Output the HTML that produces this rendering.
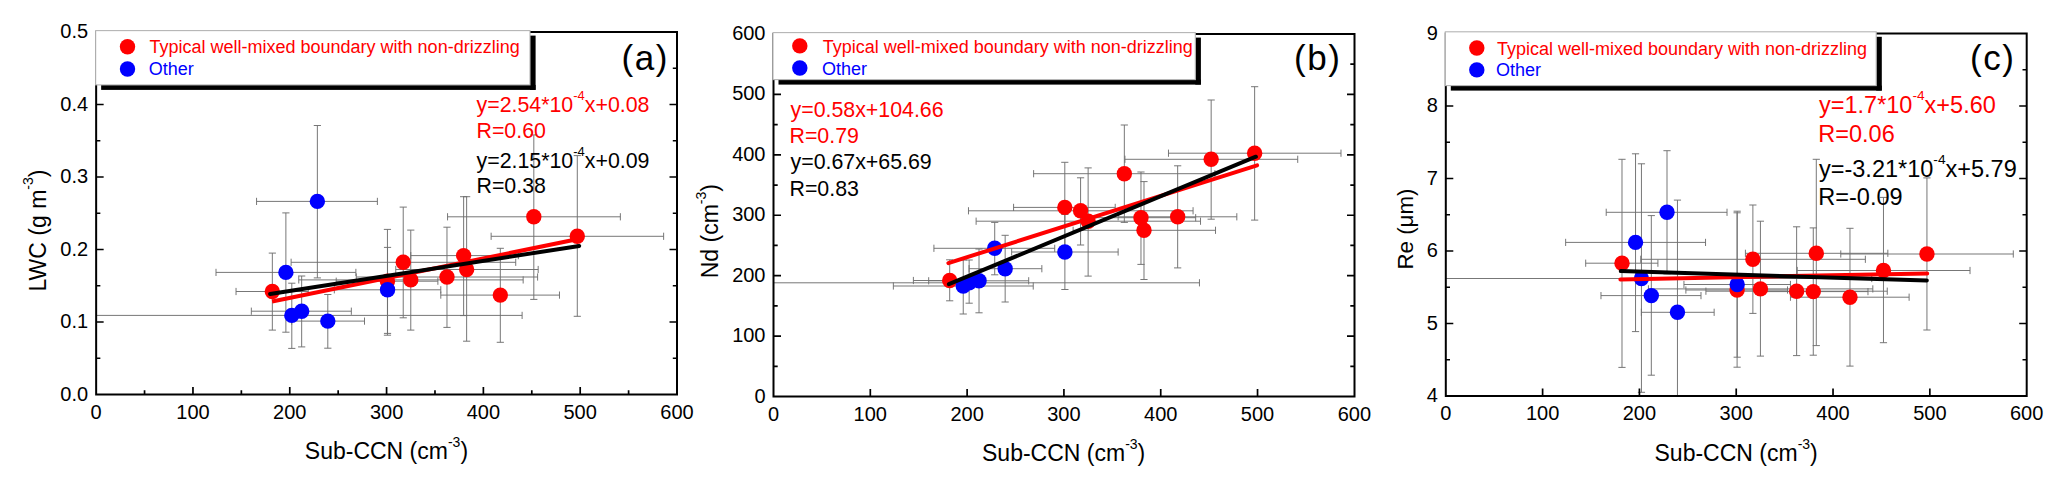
<!DOCTYPE html><html><head><meta charset="utf-8"><style>html,body{margin:0;padding:0;background:#fff;}svg{display:block;}text{font-family:"Liberation Sans", sans-serif;}</style></head><body>
<svg width="2067" height="490" viewBox="0 0 2067 490">
<rect width="2067" height="490" fill="#fff"/>
<clipPath id="clipa"><rect x="96.15" y="32" width="580.85" height="362.5"/></clipPath>
<g clip-path="url(#clipa)" stroke="#707070" stroke-width="0.95" fill="none">
<path d="M272.34 253.1V330.1M268.74 253.1H275.94M268.74 330.1H275.94M236.04 291.5H308.26M236.04 287.9V295.1M308.26 287.9V295.1"/>
<path d="M387.45 229.4V335.2M383.85 229.4H391.05M383.85 335.2H391.05M336.23 281.2H437.88M336.23 277.6V284.8M437.88 277.6V284.8"/>
<path d="M403.23 207.1V317.8M399.63 207.1H406.83M399.63 317.8H406.83M291.12 262.3H515.72M291.12 258.7V265.9M515.72 258.7V265.9"/>
<path d="M410.78 230.1V330.1M407.18 230.1H414.38M407.18 330.1H414.38M298.77 279.9H523.17M298.77 276.3V283.5M523.17 276.3V283.5"/>
<path d="M446.98 227.2V327.4M443.38 227.2H450.58M443.38 327.4H450.58M356.27 277H537.6M356.27 273.4V280.6M537.6 273.4V280.6"/>
<path d="M463.63 196.7V315.6M460.03 196.7H467.23M460.03 315.6H467.23M410.78 255.6H518.33M410.78 252V259.2M518.33 252V259.2"/>
<path d="M466.64 196.7V341.2M463.04 196.7H470.24M463.04 341.2H470.24M395.77 269.5H538.18M395.77 265.9V273.1M538.18 265.9V273.1"/>
<path d="M500.32 248.3V342.3M496.72 248.3H503.92M496.72 342.3H503.92M440.79 295.1H559.47M440.79 291.5V298.7M559.47 291.5V298.7"/>
<path d="M533.82 134.9V299.4M530.22 134.9H537.42M530.22 299.4H537.42M447.56 216.8H620.37M447.56 213.2V220.4M620.37 213.2V220.4"/>
<path d="M577.29 155.6V316.3M573.69 155.6H580.89M573.69 316.3H580.89M491.13 236.3H663.64M491.13 232.7V239.9M663.64 232.7V239.9"/>
<path d="M285.89 212.9V332.2M282.29 212.9H289.49M282.29 332.2H289.49M216 272.4H355.89M216 268.8V276M355.89 268.8V276"/>
<path d="M291.8 283.2V348.4M288.2 283.2H295.4M288.2 348.4H295.4M86.47 315.4H522.11M86.47 311.8V319M522.11 311.8V319"/>
<path d="M301.67 276V346.9M298.07 276H305.27M298.07 346.9H305.27M251.33 311.2H351.34M251.33 307.6V314.8M351.34 307.6V314.8"/>
<path d="M317.36 125.5V277.9M313.76 125.5H320.96M313.76 277.9H320.96M256.56 201.4H377.38M256.56 197.8V205M377.38 197.8V205"/>
<path d="M327.81 294.5V348.2M324.21 294.5H331.41M324.21 348.2H331.41M291.7 321.1H364.5M291.7 317.5V324.7M364.5 317.5V324.7"/>
<path d="M387.54 247.4V333.4M383.94 247.4H391.14M383.94 333.4H391.14M334.3 289.8H440.79M334.3 286.2V293.4M440.79 286.2V293.4"/>
</g>
<circle cx="272.34" cy="291.5" r="7.7" fill="#ff0000"/>
<circle cx="387.45" cy="281.2" r="7.7" fill="#ff0000"/>
<circle cx="403.23" cy="262.3" r="7.7" fill="#ff0000"/>
<circle cx="410.78" cy="279.9" r="7.7" fill="#ff0000"/>
<circle cx="446.98" cy="277" r="7.7" fill="#ff0000"/>
<circle cx="463.63" cy="255.6" r="7.7" fill="#ff0000"/>
<circle cx="466.64" cy="269.5" r="7.7" fill="#ff0000"/>
<circle cx="500.32" cy="295.1" r="7.7" fill="#ff0000"/>
<circle cx="533.82" cy="216.8" r="7.7" fill="#ff0000"/>
<circle cx="577.29" cy="236.3" r="7.7" fill="#ff0000"/>
<circle cx="285.89" cy="272.4" r="7.7" fill="#0000ff"/>
<circle cx="291.8" cy="315.4" r="7.7" fill="#0000ff"/>
<circle cx="301.67" cy="311.2" r="7.7" fill="#0000ff"/>
<circle cx="317.36" cy="201.4" r="7.7" fill="#0000ff"/>
<circle cx="327.81" cy="321.1" r="7.7" fill="#0000ff"/>
<circle cx="387.54" cy="289.8" r="7.7" fill="#0000ff"/>
<line x1="272.1" y1="301.5" x2="577" y2="239.3" stroke="#ff0000" stroke-width="4" stroke-linecap="butt"/>
<line x1="270.1" y1="294" x2="579.2" y2="245.9" stroke="#000" stroke-width="4" stroke-linecap="round"/>
<rect x="96.15" y="32" width="580.85" height="362.5" fill="none" stroke="#000" stroke-width="2"/>
<path d="M144.55 394.5V390.3M192.96 394.5V387M241.36 394.5V390.3M289.77 394.5V387M338.17 394.5V390.3M386.58 394.5V387M434.98 394.5V390.3M483.38 394.5V387M531.79 394.5V390.3M580.19 394.5V387M628.6 394.5V390.3M96.15 358.25H100.35M677 358.25H672.8M96.15 322H103.65M677 322H669.5M96.15 285.75H100.35M677 285.75H672.8M96.15 249.5H103.65M677 249.5H669.5M96.15 213.25H100.35M677 213.25H672.8M96.15 177H103.65M677 177H669.5M96.15 140.75H100.35M677 140.75H672.8M96.15 104.5H103.65M677 104.5H669.5M96.15 68.25H100.35M677 68.25H672.8" stroke="#000" stroke-width="1.7" fill="none"/>
<text x="96.15" y="418.8" font-size="20" text-anchor="middle">0</text>
<text x="192.96" y="418.8" font-size="20" text-anchor="middle">100</text>
<text x="289.77" y="418.8" font-size="20" text-anchor="middle">200</text>
<text x="386.58" y="418.8" font-size="20" text-anchor="middle">300</text>
<text x="483.38" y="418.8" font-size="20" text-anchor="middle">400</text>
<text x="580.19" y="418.8" font-size="20" text-anchor="middle">500</text>
<text x="677" y="418.8" font-size="20" text-anchor="middle">600</text>
<text x="88.15" y="400.5" font-size="20" text-anchor="end">0.0</text>
<text x="88.15" y="328" font-size="20" text-anchor="end">0.1</text>
<text x="88.15" y="255.5" font-size="20" text-anchor="end">0.2</text>
<text x="88.15" y="183" font-size="20" text-anchor="end">0.3</text>
<text x="88.15" y="110.5" font-size="20" text-anchor="end">0.4</text>
<text x="88.15" y="38" font-size="20" text-anchor="end">0.5</text>
<rect x="101.15" y="84.9" width="434.45" height="5" fill="#000"/>
<rect x="530" y="35.6" width="5.6" height="54.3" fill="#000"/>
<rect x="95.65" y="30.6" width="434.35" height="54.3" fill="#fff" stroke="#b4b4b4" stroke-width="1.1"/>
<circle cx="127.5" cy="46.7" r="7.7" fill="#ff0000"/>
<circle cx="127.5" cy="69" r="7.7" fill="#0000ff"/>
<text x="149.5" y="52.8" font-size="18" fill="#ff0000">Typical well-mixed boundary with non-drizzling</text>
<text x="148.7" y="74.9" font-size="18" fill="#0000ff">Other</text>
<clipPath id="clipb"><rect x="773.5" y="34" width="581" height="362.5"/></clipPath>
<g clip-path="url(#clipb)" stroke="#707070" stroke-width="0.95" fill="none">
<path d="M949.69 259.8V300.8M946.09 259.8H953.29M946.09 300.8H953.29M913.39 280.5H985.61M913.39 276.9V284.1M985.61 276.9V284.1"/>
<path d="M1064.8 162.3V252.5M1061.2 162.3H1068.4M1061.2 252.5H1068.4M1013.58 207.4H1115.23M1013.58 203.8V211M1115.23 203.8V211"/>
<path d="M1080.58 177.8V245M1076.98 177.8H1084.18M1076.98 245H1084.18M968.47 210.8H1193.07M968.47 207.2V214.4M1193.07 207.2V214.4"/>
<path d="M1088.13 167.9V276.1M1084.53 167.9H1091.73M1084.53 276.1H1091.73M976.12 221.2H1200.52M976.12 217.6V224.8M1200.52 217.6V224.8"/>
<path d="M1124.33 125V222.4M1120.73 125H1127.93M1120.73 222.4H1127.93M1033.62 173.7H1214.95M1033.62 170.1V177.3M1214.95 170.1V177.3"/>
<path d="M1140.98 172V264.4M1137.38 172H1144.58M1137.38 264.4H1144.58M1088.13 217.7H1195.68M1088.13 214.1V221.3M1195.68 214.1V221.3"/>
<path d="M1143.99 181.6V279.5M1140.39 181.6H1147.59M1140.39 279.5H1147.59M1073.12 230.3H1215.53M1073.12 226.7V233.9M1215.53 226.7V233.9"/>
<path d="M1177.67 165.8V267.9M1174.07 165.8H1181.27M1174.07 267.9H1181.27M1118.14 216.8H1236.82M1118.14 213.2V220.4M1236.82 213.2V220.4"/>
<path d="M1211.17 100V219.2M1207.57 100H1214.77M1207.57 219.2H1214.77M1124.91 159.3H1297.72M1124.91 155.7V162.9M1297.72 155.7V162.9"/>
<path d="M1254.64 86.7V220.1M1251.04 86.7H1258.24M1251.04 220.1H1258.24M1168.48 153.2H1340.99M1168.48 149.6V156.8M1340.99 149.6V156.8"/>
<path d="M963.24 260V314M959.64 260H966.84M959.64 314H966.84M893.35 286H1033.24M893.35 282.4V289.6M1033.24 282.4V289.6"/>
<path d="M969.15 260V303.2M965.55 260H972.75M965.55 303.2H972.75M763.82 282.8H1199.46M763.82 279.2V286.4M1199.46 279.2V286.4"/>
<path d="M979.02 249V312.8M975.42 249H982.62M975.42 312.8H982.62M928.68 280.8H1028.69M928.68 277.2V284.4M1028.69 277.2V284.4"/>
<path d="M994.71 222.4V274.8M991.11 222.4H998.31M991.11 274.8H998.31M933.91 248.3H1054.73M933.91 244.7V251.9M1054.73 244.7V251.9"/>
<path d="M1005.16 235.3V302M1001.56 235.3H1008.76M1001.56 302H1008.76M969.05 268.7H1041.85M969.05 265.1V272.3M1041.85 265.1V272.3"/>
<path d="M1064.89 214.5V289.5M1061.29 214.5H1068.49M1061.29 289.5H1068.49M1011.65 252H1118.14M1011.65 248.4V255.6M1118.14 248.4V255.6"/>
</g>
<circle cx="949.69" cy="280.5" r="7.7" fill="#ff0000"/>
<circle cx="1064.8" cy="207.4" r="7.7" fill="#ff0000"/>
<circle cx="1080.58" cy="210.8" r="7.7" fill="#ff0000"/>
<circle cx="1088.13" cy="221.2" r="7.7" fill="#ff0000"/>
<circle cx="1124.33" cy="173.7" r="7.7" fill="#ff0000"/>
<circle cx="1140.98" cy="217.7" r="7.7" fill="#ff0000"/>
<circle cx="1143.99" cy="230.3" r="7.7" fill="#ff0000"/>
<circle cx="1177.67" cy="216.8" r="7.7" fill="#ff0000"/>
<circle cx="1211.17" cy="159.3" r="7.7" fill="#ff0000"/>
<circle cx="1254.64" cy="153.2" r="7.7" fill="#ff0000"/>
<circle cx="963.24" cy="286" r="7.7" fill="#0000ff"/>
<circle cx="969.15" cy="282.8" r="7.7" fill="#0000ff"/>
<circle cx="979.02" cy="280.8" r="7.7" fill="#0000ff"/>
<circle cx="994.71" cy="248.3" r="7.7" fill="#0000ff"/>
<circle cx="1005.16" cy="268.7" r="7.7" fill="#0000ff"/>
<circle cx="1064.89" cy="252" r="7.7" fill="#0000ff"/>
<line x1="948.4" y1="263.1" x2="1257.1" y2="165.3" stroke="#ff0000" stroke-width="4" stroke-linecap="round"/>
<line x1="948.9" y1="284.2" x2="1255.9" y2="156.7" stroke="#000" stroke-width="4" stroke-linecap="round"/>
<rect x="773.5" y="34" width="581" height="362.5" fill="none" stroke="#000" stroke-width="2"/>
<path d="M870.31 396.5V389M967.12 396.5V389M1063.92 396.5V389M1160.73 396.5V389M1257.54 396.5V389M773.5 366.29H777.7M1354.5 366.29H1350.3M773.5 336.08H781M1354.5 336.08H1347M773.5 305.88H777.7M1354.5 305.88H1350.3M773.5 275.67H781M1354.5 275.67H1347M773.5 245.46H777.7M1354.5 245.46H1350.3M773.5 215.25H781M1354.5 215.25H1347M773.5 185.04H777.7M1354.5 185.04H1350.3M773.5 154.83H781M1354.5 154.83H1347M773.5 124.62H777.7M1354.5 124.62H1350.3M773.5 94.42H781M1354.5 94.42H1347M773.5 64.21H777.7M1354.5 64.21H1350.3" stroke="#000" stroke-width="1.7" fill="none"/>
<text x="773.5" y="420.8" font-size="20" text-anchor="middle">0</text>
<text x="870.31" y="420.8" font-size="20" text-anchor="middle">100</text>
<text x="967.12" y="420.8" font-size="20" text-anchor="middle">200</text>
<text x="1063.92" y="420.8" font-size="20" text-anchor="middle">300</text>
<text x="1160.73" y="420.8" font-size="20" text-anchor="middle">400</text>
<text x="1257.54" y="420.8" font-size="20" text-anchor="middle">500</text>
<text x="1354.35" y="420.8" font-size="20" text-anchor="middle">600</text>
<text x="765.5" y="402.5" font-size="20" text-anchor="end">0</text>
<text x="765.5" y="342.08" font-size="20" text-anchor="end">100</text>
<text x="765.5" y="281.67" font-size="20" text-anchor="end">200</text>
<text x="765.5" y="221.25" font-size="20" text-anchor="end">300</text>
<text x="765.5" y="160.83" font-size="20" text-anchor="end">400</text>
<text x="765.5" y="100.42" font-size="20" text-anchor="end">500</text>
<text x="765.5" y="40" font-size="20" text-anchor="end">600</text>
<rect x="778.5" y="79.6" width="422.4" height="5" fill="#000"/>
<rect x="1195.3" y="37.6" width="5.6" height="47" fill="#000"/>
<rect x="773" y="32.6" width="422.3" height="47" fill="#fff" stroke="#b4b4b4" stroke-width="1.1"/>
<circle cx="799.8" cy="45.9" r="7.7" fill="#ff0000"/>
<circle cx="799.8" cy="68" r="7.7" fill="#0000ff"/>
<text x="822.7" y="52.8" font-size="18" fill="#ff0000">Typical well-mixed boundary with non-drizzling</text>
<text x="821.9" y="74.9" font-size="18" fill="#0000ff">Other</text>
<clipPath id="clipc"><rect x="1445.8" y="33.5" width="580.9" height="362.5"/></clipPath>
<g clip-path="url(#clipc)" stroke="#707070" stroke-width="0.95" fill="none">
<path d="M1621.99 159.3V367.4M1618.39 159.3H1625.59M1618.39 367.4H1625.59M1585.69 263.2H1657.91M1585.69 259.6V266.8M1657.91 259.6V266.8"/>
<path d="M1737.1 212.8V367.2M1733.5 212.8H1740.7M1733.5 367.2H1740.7M1685.88 290H1787.53M1685.88 286.4V293.6M1787.53 286.4V293.6"/>
<path d="M1752.88 205V313.4M1749.28 205H1756.48M1749.28 313.4H1756.48M1640.77 259.3H1865.37M1640.77 255.7V262.9M1865.37 255.7V262.9"/>
<path d="M1760.43 221.2V356.1M1756.83 221.2H1764.03M1756.83 356.1H1764.03M1648.42 288.9H1872.82M1648.42 285.3V292.5M1872.82 285.3V292.5"/>
<path d="M1796.63 226.8V355.6M1793.03 226.8H1800.23M1793.03 355.6H1800.23M1705.92 291.2H1887.25M1705.92 287.6V294.8M1887.25 287.6V294.8"/>
<path d="M1813.28 227.9V355.2M1809.68 227.9H1816.88M1809.68 355.2H1816.88M1760.43 291.6H1867.98M1760.43 288V295.2M1867.98 288V295.2"/>
<path d="M1816.29 159.3V345.6M1812.69 159.3H1819.89M1812.69 345.6H1819.89M1745.42 253.3H1887.83M1745.42 249.7V256.9M1887.83 249.7V256.9"/>
<path d="M1849.97 228.3V366.1M1846.37 228.3H1853.57M1846.37 366.1H1853.57M1790.44 297.2H1909.12M1790.44 293.6V300.8M1909.12 293.6V300.8"/>
<path d="M1883.47 197.4V342.7M1879.87 197.4H1887.07M1879.87 342.7H1887.07M1797.21 270.5H1970.02M1797.21 266.9V274.1M1970.02 266.9V274.1"/>
<path d="M1926.94 177.9V330M1923.34 177.9H1930.54M1923.34 330H1930.54M1840.78 254H2013.29M1840.78 250.4V257.6M2013.29 250.4V257.6"/>
<path d="M1635.54 153.8V331.6M1631.94 153.8H1639.14M1631.94 331.6H1639.14M1565.65 242.4H1705.54M1565.65 238.8V246M1705.54 238.8V246"/>
<path d="M1641.45 163.8V392.3M1637.85 163.8H1645.05M1637.85 392.3H1645.05M1436.12 278.5H1871.76M1436.12 274.9V282.1M1871.76 274.9V282.1"/>
<path d="M1651.32 215.6V375.2M1647.72 215.6H1654.92M1647.72 375.2H1654.92M1600.98 295.6H1700.99M1600.98 292V299.2M1700.99 292V299.2"/>
<path d="M1667.01 150.7V273.9M1663.41 150.7H1670.61M1663.41 273.9H1670.61M1606.21 212.3H1727.03M1606.21 208.7V215.9M1727.03 208.7V215.9"/>
<path d="M1677.46 200.1V396M1673.86 200.1H1681.06M1673.86 396H1681.06M1641.35 312.3H1714.15M1641.35 308.7V315.9M1714.15 308.7V315.9"/>
<path d="M1737.19 211.2V357.2M1733.59 211.2H1740.79M1733.59 357.2H1740.79M1683.95 284.5H1790.44M1683.95 280.9V288.1M1790.44 280.9V288.1"/>
</g>
<circle cx="1621.99" cy="263.2" r="7.7" fill="#ff0000"/>
<circle cx="1737.1" cy="290" r="7.7" fill="#ff0000"/>
<circle cx="1752.88" cy="259.3" r="7.7" fill="#ff0000"/>
<circle cx="1760.43" cy="288.9" r="7.7" fill="#ff0000"/>
<circle cx="1796.63" cy="291.2" r="7.7" fill="#ff0000"/>
<circle cx="1813.28" cy="291.6" r="7.7" fill="#ff0000"/>
<circle cx="1816.29" cy="253.3" r="7.7" fill="#ff0000"/>
<circle cx="1849.97" cy="297.2" r="7.7" fill="#ff0000"/>
<circle cx="1883.47" cy="270.5" r="7.7" fill="#ff0000"/>
<circle cx="1926.94" cy="254" r="7.7" fill="#ff0000"/>
<circle cx="1635.54" cy="242.4" r="7.7" fill="#0000ff"/>
<circle cx="1641.45" cy="278.5" r="7.7" fill="#0000ff"/>
<circle cx="1651.32" cy="295.6" r="7.7" fill="#0000ff"/>
<circle cx="1667.01" cy="212.3" r="7.7" fill="#0000ff"/>
<circle cx="1677.46" cy="312.3" r="7.7" fill="#0000ff"/>
<circle cx="1737.19" cy="284.5" r="7.7" fill="#0000ff"/>
<line x1="1620.4" y1="279.4" x2="1927.2" y2="273.5" stroke="#ff0000" stroke-width="4" stroke-linecap="round"/>
<line x1="1620.8" y1="271.1" x2="1926.8" y2="280.4" stroke="#000" stroke-width="4" stroke-linecap="round"/>
<rect x="1445.8" y="33.5" width="580.9" height="362.5" fill="none" stroke="#000" stroke-width="2"/>
<path d="M1542.61 396V388.5M1639.42 396V388.5M1736.22 396V388.5M1833.03 396V388.5M1929.84 396V388.5M1445.8 359.75H1450M2026.7 359.75H2022.5M1445.8 323.5H1453.3M2026.7 323.5H2019.2M1445.8 287.25H1450M2026.7 287.25H2022.5M1445.8 251H1453.3M2026.7 251H2019.2M1445.8 214.75H1450M2026.7 214.75H2022.5M1445.8 178.5H1453.3M2026.7 178.5H2019.2M1445.8 142.25H1450M2026.7 142.25H2022.5M1445.8 106H1453.3M2026.7 106H2019.2M1445.8 69.75H1450M2026.7 69.75H2022.5" stroke="#000" stroke-width="1.7" fill="none"/>
<text x="1445.8" y="420.3" font-size="20" text-anchor="middle">0</text>
<text x="1542.61" y="420.3" font-size="20" text-anchor="middle">100</text>
<text x="1639.42" y="420.3" font-size="20" text-anchor="middle">200</text>
<text x="1736.22" y="420.3" font-size="20" text-anchor="middle">300</text>
<text x="1833.03" y="420.3" font-size="20" text-anchor="middle">400</text>
<text x="1929.84" y="420.3" font-size="20" text-anchor="middle">500</text>
<text x="2026.65" y="420.3" font-size="20" text-anchor="middle">600</text>
<text x="1437.8" y="402" font-size="20" text-anchor="end">4</text>
<text x="1437.8" y="329.5" font-size="20" text-anchor="end">5</text>
<text x="1437.8" y="257" font-size="20" text-anchor="end">6</text>
<text x="1437.8" y="184.5" font-size="20" text-anchor="end">7</text>
<text x="1437.8" y="112" font-size="20" text-anchor="end">8</text>
<text x="1437.8" y="39.5" font-size="20" text-anchor="end">9</text>
<rect x="1450.8" y="85.6" width="431" height="5" fill="#000"/>
<rect x="1876.2" y="36.8" width="5.6" height="53.8" fill="#000"/>
<rect x="1445.3" y="31.8" width="430.9" height="53.8" fill="#fff" stroke="#b4b4b4" stroke-width="1.1"/>
<circle cx="1476.8" cy="48" r="7.7" fill="#ff0000"/>
<circle cx="1476.8" cy="69.9" r="7.7" fill="#0000ff"/>
<text x="1496.9" y="54.8" font-size="18" fill="#ff0000">Typical well-mixed boundary with non-drizzling</text>
<text x="1496.1" y="76.4" font-size="18" fill="#0000ff">Other</text>
<text x="304.8" y="459.2" font-size="23">Sub-CCN (cm<tspan font-size="14" dy="-12.5">-3</tspan><tspan dy="12.5">)</tspan></text>
<text x="982" y="461.2" font-size="23">Sub-CCN (cm<tspan font-size="14" dy="-12.5">-3</tspan><tspan dy="12.5">)</tspan></text>
<text x="1654.5" y="461.2" font-size="23">Sub-CCN (cm<tspan font-size="14" dy="-12.5">-3</tspan><tspan dy="12.5">)</tspan></text>
<text transform="translate(45.7,291.5) rotate(-90)" font-size="23">LWC (g m<tspan font-size="14" dy="-12.8">-3</tspan><tspan dy="12.8">)</tspan></text>
<text transform="translate(718.3,278.3) rotate(-90)" font-size="23">Nd (cm<tspan font-size="14" dy="-12.8">-3</tspan><tspan dy="12.8">)</tspan></text>
<text transform="translate(1412.5,269.5) rotate(-90) scale(0.97,1)" font-size="23">Re (μm)</text>
<text x="644.45" y="69.6" font-size="35" text-anchor="middle">(<tspan dx="1.5">a</tspan><tspan dx="1.5">)</tspan></text>
<text x="1316.9" y="69.6" font-size="35" text-anchor="middle">(<tspan dx="1.5">b</tspan><tspan dx="1.5">)</tspan></text>
<text x="1991.95" y="69.6" font-size="35" text-anchor="middle">(<tspan dx="1.5">c</tspan><tspan dx="1.5">)</tspan></text>
<text transform="translate(476.5,111.6) scale(0.962,1)" font-size="22.2" fill="#ff0000">y=2.54*10<tspan font-size="13.5" dy="-12">-4</tspan><tspan dy="12">x+0.08</tspan></text>
<text transform="translate(476.5,137.6) scale(0.962,1)" font-size="22.2" fill="#ff0000">R=0.60</text>
<text transform="translate(476.5,167.7) scale(0.962,1)" font-size="22.2" fill="#000">y=2.15*10<tspan font-size="13.5" dy="-12">-4</tspan><tspan dy="12">x+0.09</tspan></text>
<text transform="translate(476.5,193.4) scale(0.962,1)" font-size="22.2" fill="#000">R=0.38</text>
<text transform="translate(790.5,117.3) scale(0.962,1)" font-size="22.2" fill="#ff0000">y=0.58x+104.66</text>
<text transform="translate(789.5,143.2) scale(0.962,1)" font-size="22.2" fill="#ff0000">R=0.79</text>
<text transform="translate(790.5,168.9) scale(0.962,1)" font-size="22.2" fill="#000">y=0.67x+65.69</text>
<text transform="translate(789.5,195.5) scale(0.962,1)" font-size="22.2" fill="#000">R=0.83</text>
<text transform="translate(1819,113) scale(1.0,1)" font-size="23.5" fill="#ff0000">y=1.7*10<tspan font-size="13.7" dy="-12.6">-4</tspan><tspan dy="12.6">x+5.60</tspan></text>
<text transform="translate(1818.3,142.4) scale(1.0,1)" font-size="23.5" fill="#ff0000">R=0.06</text>
<text transform="translate(1819,176.6) scale(1.0,1)" font-size="23.5" fill="#000">y=-3.21*10<tspan font-size="13.7" dy="-12.6">-4</tspan><tspan dy="12.6">x+5.79</tspan></text>
<text transform="translate(1818.3,204.8) scale(1.0,1)" font-size="23.5" fill="#000">R=-0.09</text>
</svg></body></html>
